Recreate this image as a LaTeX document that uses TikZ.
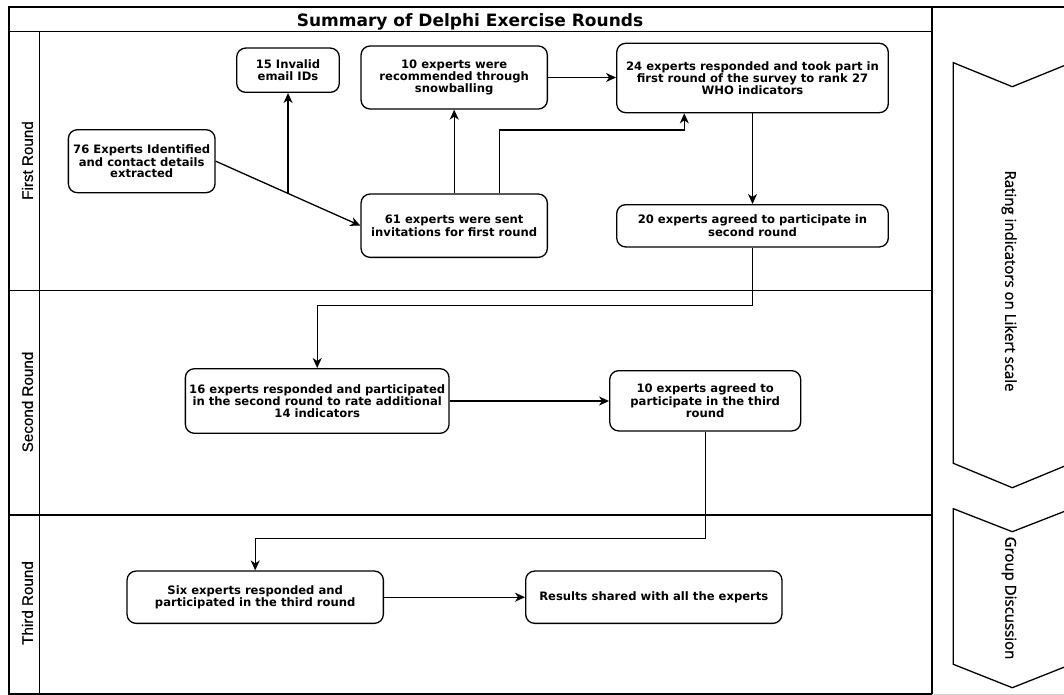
\documentclass[tikz,border=0pt]{standalone}
\usepackage{fontspec}
\setmainfont{DejaVu Sans}
\newfontfamily\lanefont{Liberation Sans}[FakeBold=0.5]
\newfontfamily\chevfont{Open Sans}[FakeBold=1.2]
\usetikzlibrary{arrows.meta,calc}
\begin{document}
\begin{tikzpicture}[x=1pt,y=-1pt,
  box/.style={draw, line width=1.3pt, rounded corners=9pt, inner sep=0pt, align=center,
    font=\fontsize{11.6}{11.2}\selectfont\bfseries},
  conn/.style={line width=1.3pt, -{Stealth[length=10pt,width=9pt,inset=3pt]}},
  frame/.style={line width=1.7pt},
  lane/.style={line width=1.4pt},
  chev/.style={line width=1.3pt, line join=miter},
  lanelabel/.style={rotate=90, font=\lanefont\fontsize{15.2}{15}\selectfont},
  chevlabel/.style={rotate=-90, font=\chevfont\fontsize{15}{15}\selectfont},
]
\useasboundingbox (0,0) rectangle (1064,695);
% swimlane frame
\draw[frame] (8.7,6.7) rectangle (931.7,694);
\draw[frame] (931.7,6.7) -- (1064,6.7);
\draw[gray!35, line width=1pt] (931.7,694) -- (1064,694);
\draw[lane] (8.7,31.7) -- (931.7,31.7);
\draw[lane] (39.3,31.7) -- (39.3,694);
\draw[lane] (8.7,290.7) -- (931.7,290.7);
\draw[lane] (8.7,515) -- (931.7,515);
\node[font=\fontsize{17}{17}\selectfont\bfseries, anchor=base] (title) at (470,26.7) {Summary of Delphi Exercise Rounds};
\node[lanelabel] (l1) at (27.5,160.5) {First Round};
\node[lanelabel] (l2) at (27.5,402) {Second Round};
\node[lanelabel] (l3) at (27.5,603) {Third Round};
% chevrons
\begin{scope}
\clip (0,0) rectangle (1064,695);
\draw[chev] (953.3,62.7) -- (1012.3,86.7) -- (1071.3,62.7) -- (1071.3,463.3) -- (1012.3,487.7) -- (953.3,463.3) -- cycle;
\draw[chev] (953.3,508.7) -- (1012.3,531.7) -- (1071.3,508.7) -- (1071.3,664.3) -- (1012.3,687.7) -- (953.3,664.3) -- cycle;
\end{scope}
\node[chevlabel] (c1) at (1009,281) {Rating indicators on Likert scale};
\node[chevlabel] (c2) at (1009,598) {Group Discussion};
% boxes
\node[box, minimum width=102.6pt, minimum height=44.3pt] (inv) at (288,70.2) {15 Invalid\\email IDs};
\node[box, minimum width=186.3pt, minimum height=63pt] (snow) at (454.2,77.5) {10 experts were\\recommended through\\snowballing};
\node[box, minimum width=271.6pt, minimum height=69.4pt] (who) at (752.5,78) {24 experts responded and took part in\\first round of the survey to rank 27\\WHO indicators};
\node[box, minimum width=146.7pt, minimum height=63pt] (ident) at (141.7,161.2) {76 Experts Identified\\and contact details\\extracted};
\node[box, minimum width=186.3pt, minimum height=63.3pt] (invit) at (454.2,225.7) {61 experts were sent\\invitations for first round};
\node[box, minimum width=271.6pt, minimum height=42.3pt] (agree2) at (752.5,225.8) {20 experts agreed to participate in\\second round};
\node[box, minimum width=263.7pt, minimum height=64.6pt] (resp2) at (317.2,401) {16 experts responded and participated\\in the second round to rate additional\\14 indicators};
\node[box, minimum width=191pt, minimum height=60.3pt] (agree3) at (705.2,400.8) {10 experts agreed to\\participate in the third\\round};
\node[box, minimum width=256.3pt, minimum height=52.3pt] (six) at (255.2,597.2) {Six experts responded and\\participated in the third round};
\node[box, minimum width=256.3pt, minimum height=52.3pt] (res) at (653.8,597.2) {Results shared with all the experts};
% connectors
\coordinate (m1) at ($(ident.east)!0.5!(invit.west)$);
\coordinate (b1) at ($(invit.north)+(45,0)$);
\coordinate (wIn) at ($(who.south west)!0.25!(who.south east)$);
\coordinate (j1) at (0,130);
\coordinate (j2) at (0,305.7);
\coordinate (j3) at (0,538.7);
\draw[conn] (ident.east) -- (invit.west);
\draw[conn] (m1) -- (m1 |- inv.south);
\draw[conn] (invit.north) -- (snow.south);
\draw[conn] (b1) |- (wIn |- j1) -- (wIn);
\draw[conn] (snow.east) -- (snow.east -| who.west);
\draw[conn] (who.south) -- (agree2.north);
\draw[conn] (agree2.south) -- (agree2.south |- j2) -| (resp2.north);
\draw[conn] (resp2.east) -- (resp2.east -| agree3.west);
\draw[conn] (agree3.south) -- (agree3.south |- j3) -| (six.north);
\draw[conn] (six.east) -- (res.west);
\end{tikzpicture}
\end{document}
